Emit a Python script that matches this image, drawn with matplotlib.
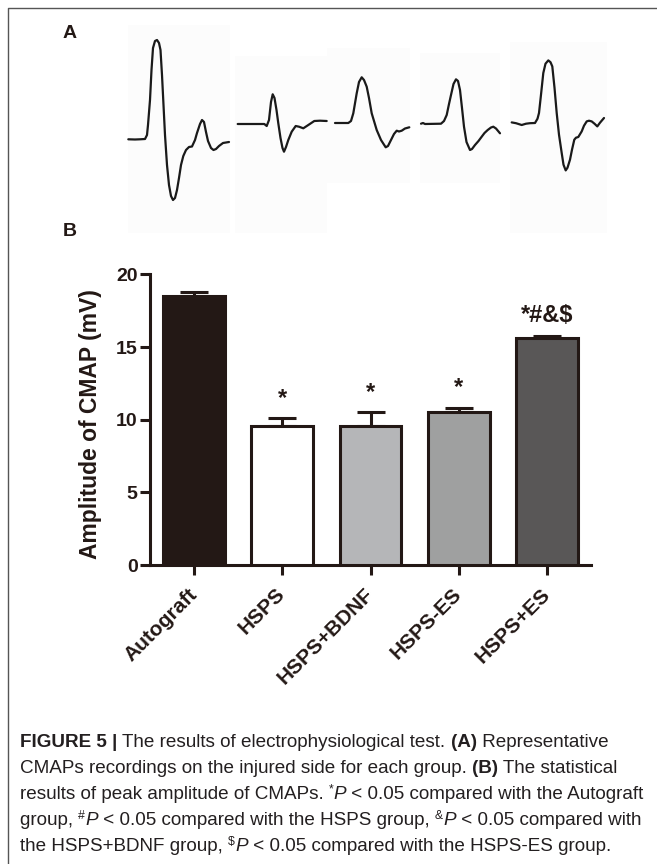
import matplotlib
matplotlib.use("Agg")
import matplotlib.pyplot as plt
import numpy as np

plt.rcParams['font.family'] = ['Liberation Sans', 'DejaVu Sans']

W, H = 657, 864
ink = '#231815'

# panel B data
groups = ["Autograft", "HSPS", "HSPS+BDNF", "HSPS-ES", "HSPS+ES"]
amp_mean = [18.5, 9.6, 9.6, 10.5, 15.6]
amp_err = [0.3, 0.5, 0.9, 0.3, 0.2]
marks = ["", "*", "*", "*", "*#&$"]
bar_colors = ["#231815", "#ffffff", "#b5b6b8", "#9fa0a0", "#595757"]
y_ticks = [0, 5, 10, 15, 20]

# panel A: representative CMAP traces (time, amplitude)
t_autograft = [0, 6.7, 11.7, 16.7, 18.7, 19.7, 21.7, 23.2, 24.7, 26.7, 28.7, 30.7, 32.2, 33.7, 35.2, 36.7,
               38.7, 40.7, 42.7, 44.7, 46.7, 48.7, 50.7, 52.7, 55, 57.7, 60.7, 63.7, 66.7, 68.7, 71.7,
               73.7, 75.7, 77.7, 79.7, 82.7, 85.2, 87.7, 90.7, 94.7, 100.7]
a_autograft = [0, -0.2, 0, 0.3, 4.3, 14.3, 39.3, 69.3, 91.3, 98.3, 99.3, 96.3, 89.3, 64.3, 34.3, 4.3,
               -25.7, -45.7, -56.7, -60.7, -58.7, -50.7, -38.7, -25.7, -16.7, -10.7, -7.7, -7.2, -0.7, 6.3, 15.3,
               19.3, 17.3, 7.3, -1.7, -8.7, -10.7, -9.7, -6.7, -3.7, -2.7]
t_hsps = [0, 12.3, 26.6, 29, 31.3, 33.3, 35, 36.8, 38.8, 40.6, 42.8, 44.8, 46.3, 48.3, 50.6, 54, 58,
          61.3, 65.6, 70.6, 76.6, 82.3, 89]
a_hsps = [0, 0, 0, -2, 4, 22, 29.7, 26, 14, 0.7, -14, -24, -27.7, -23, -16, -7.7, -2,
          -2.7, -4.3, -1, 3, 3.3, 3]
t_bdnf = [0, 13.3, 16, 18.3, 21.7, 24, 26.7, 29, 31.7, 34, 36.7, 41.7, 46, 50.7, 53, 56, 59, 61.7,
          64, 66.7, 70, 74.3]
a_bdnf = [0, 0, 2, 9.7, 29.7, 41, 45.7, 43, 36.3, 25, 9.7, -7, -17, -24.3, -23, -17, -11, -7.7,
          -8.5, -7.7, -5.5, -4.3]
t_es_minus = [0, 2, 4, 20, 23, 25.7, 28, 30, 32.5, 35, 37, 39, 41, 43, 45.5, 49, 51, 54, 57.5, 60.7,
              63.5, 66.7, 70, 72.3, 75, 79]
a_es_minus = [0, 0.7, -0.3, 0, 2.7, 8.7, 19.7, 28.7, 39.7, 44.4, 42.7, 33.7, 15.7, -3, -18.3, -26.3,
              -25.3, -21.3, -17.3, -13, -9.3, -6.3, -3.8, -3, -4.8, -9.6]
t_es_plus = [0, 4.3, 10, 14.3, 18.3, 23.3, 25.8, 27.3, 29.3, 31.6, 33.8, 36.6, 38.8, 40.6, 42.8, 45,
             47.3, 50, 51.8, 54, 55.8, 58.3, 60.3, 62.6, 64.3, 66.6, 70, 72.3, 75, 77.3, 80, 82.8,
             85.6, 88.3, 92.3]
a_es_plus = [0.3, -0.5, -2.3, -1, -0.5, -0.3, 4, 9.7, 28, 49.7, 59, 62.3, 60.5, 56.3, 35, 9.7,
             -12, -30.3, -42, -47.7, -45, -37, -27, -17, -15, -14.3, -8.7, -3, 1.3, 2, 1.3, -1,
             -3.7, 0, 4.7]
traces = [(t_autograft, a_autograft), (t_hsps, a_hsps), (t_bdnf, a_bdnf),
          (t_es_minus, a_es_minus), (t_es_plus, a_es_plus)]

# where each trace sits in the picture (pixels): start x, baseline y
trace_x0 = [128.3, 237.7, 335, 421, 511.7]
trace_base = [139.3, 124, 123, 123.7, 122.7]
# faint backgrounds of the pasted trace images (x0, y0, x1, y1)
trace_boxes = [(128, 25, 230, 233), (235, 56, 327, 233), (327, 48, 410, 183),
               (420, 53, 500, 183), (510, 42, 607, 233)]

fig = plt.figure(figsize=(W / 100, H / 100), dpi=100)

# overlay axes in pixel units
axo = fig.add_axes([0, 0, 1, 1])
axo.set_xlim(0, W)
axo.set_ylim(H, 0)
axo.axis('off')
axo.plot([8, 8, W + 5], [H + 5, 8, 8], color='#555555', lw=1.0)

for (x0, y0, x1, y1) in trace_boxes:
    axo.add_patch(plt.Rectangle((x0, y0), x1 - x0, y1 - y0, color='#fcfcfc', lw=0, zorder=0))

for (t, a), x0, b in zip(traces, trace_x0, trace_base):
    axo.plot(np.array(t) + x0, b - np.array(a), color='#1a1a1a', lw=1.6,
             solid_joinstyle='round', solid_capstyle='round', zorder=2)

axo.text(70, 34, "A", fontsize=14, fontweight='bold', ha='center', va='center', color=ink)
axo.text(70, 231, "B", fontsize=14, fontweight='bold', ha='center', va='center', color=ink)

# bar chart
left, right, top, bottom = 150, 591, 274.5, 565
ax = fig.add_axes([left / W, 1 - bottom / H, (right - left) / W, (bottom - top) / H])
ax.patch.set_alpha(0)
xpos = np.arange(len(groups))
ax.errorbar(xpos, amp_mean, yerr=[np.zeros(len(groups)), amp_err], fmt='none', ecolor=ink,
            elinewidth=2.2, capsize=10, capthick=2.2, zorder=2)
ax.bar(xpos, amp_mean, width=0.7, color=bar_colors, edgecolor=ink, linewidth=2.2, zorder=3)
for i, mk in enumerate(marks):
    if mk:
        ax.text(i, amp_mean[i] + amp_err[i] + 0.6, mk, ha='center', va='bottom',
                fontsize=17, fontweight='bold', color=ink)

ax.set_xlim(-0.5, len(groups) - 0.5)
ax.set_ylim(0, 20)
ax.set_yticks(y_ticks)
ax.set_xticks(xpos)
ax.set_xticklabels(groups, rotation=45, ha='right', rotation_mode='anchor', va='center')
for s in ['top', 'right']:
    ax.spines[s].set_visible(False)
for s in ['left', 'bottom']:
    ax.spines[s].set_linewidth(2.2)
    ax.spines[s].set_color(ink)
ax.tick_params(axis='both', width=2.2, length=7, color=ink, labelsize=14, labelcolor=ink)
ax.tick_params(axis='y', pad=2)
ax.tick_params(axis='x', pad=12, labelsize=15)
for lbl in ax.get_xticklabels() + ax.get_yticklabels():
    lbl.set_fontweight('bold')
ax.text(-0.136, 0.485, "Amplitude of CMAP (mV)", transform=ax.transAxes, rotation=90,
        ha='center', va='center', fontsize=16.5, fontweight='bold', color=ink)

# caption, drawn piece by piece so that bold / italic / superscripts mix
cap_lines = [
    [("FIGURE 5 | ", 'b'), ("The results of electrophysiological test. ", 'n'), ("(A)", 'b'),
     (" Representative", 'n')],
    [("CMAPs recordings on the injured side for each group. ", 'n'), ("(B)", 'b'),
     (" The statistical", 'n')],
    [("results of peak amplitude of CMAPs. ", 'n'), ("*", 's'), ("P", 'i'),
     (" < 0.05 compared with the Autograft", 'n')],
    [("group, ", 'n'), ("#", 's'), ("P", 'i'), (" < 0.05 compared with the HSPS group, ", 'n'),
     ("&", 's'), ("P", 'i'), (" < 0.05 compared with", 'n')],
    [("the HSPS+BDNF group, ", 'n'), ("$", 's'), ("P", 'i'),
     (" < 0.05 compared with the HSPS-ES group.", 'n')],
]
cap_family = ['Liberation Sans', 'DejaVu Sans']
cap_color = '#231f20'
renderer = fig.canvas.get_renderer()


def style(kind, fs):
    kw = dict(family=cap_family, fontsize=fs, color=cap_color)
    if kind == 'b':
        kw['fontweight'] = 'bold'
    elif kind == 'i':
        kw['fontstyle'] = 'italic'
    elif kind == 's':
        kw['fontsize'] = fs * 0.65
    return kw


def seg_width(txt, kw):
    a = fig.text(0, 0, txt + "x", **kw)
    b = fig.text(0, 0, "x", **kw)
    w = a.get_window_extent(renderer).width - b.get_window_extent(renderer).width
    a.remove()
    b.remove()
    return w


def line_width(line, fs):
    return sum(seg_width(txt, style(k, fs)) for txt, k in line)


# size the caption so that its longest line spans the frame like in the picture
cap_x0, cap_target = 20, 623
fs = 10 * cap_target / line_width(cap_lines[3], 10)
cap_base0, cap_step = 747, 26
for j, line in enumerate(cap_lines):
    x = cap_x0
    yb = cap_base0 + j * cap_step
    for txt, k in line:
        kw = style(k, fs)
        dy = -fs * 0.45 if k == 's' else 0
        fig.text(x / W, 1 - (yb + dy) / H, txt, va='baseline', ha='left', **kw)
        x += seg_width(txt, kw)

fig.savefig("out.png", dpi=100)
